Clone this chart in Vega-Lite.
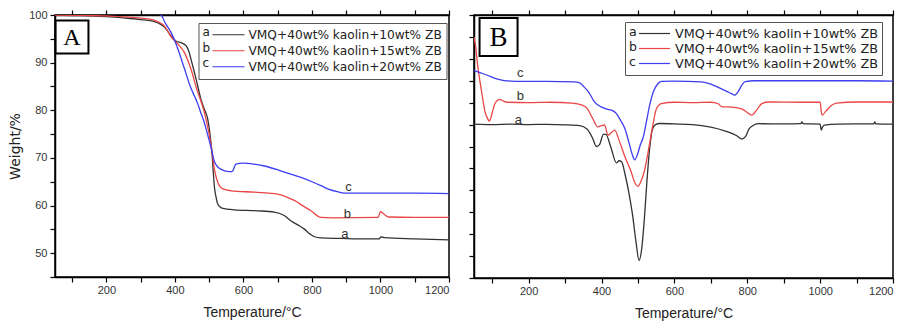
{
"$schema": "https://vega.github.io/schema/vega-lite/v6.json",
"padding": {"left": 7, "top": 8, "right": 0, "bottom": 0},
"bounds": "flush",
"spacing": 25,
"background": "white",
"config": {
  "view": {"stroke": "black", "strokeWidth": 1.5},
  "axis": {"grid": false, "domainColor": "black", "domainWidth": 1.5, "tickColor": "black", "tickWidth": 1.2, "tickSize": 5,
           "labelFont": "Liberation Sans", "labelFontSize": 11, "labelColor": "#333", "labelPadding": 2,
           "titleFont": "Liberation Sans", "titleFontSize": 14, "titleFontWeight": "normal", "titleColor": "#222"},
  "font": "Liberation Sans"
},
"resolve": {"scale": {"color": "independent"}},
"datasets": {
  "tga": [
    {"s":"a","T":50,"W":100},{"s":"a","T":100,"W":99.9},{"s":"a","T":150,"W":99.8},{"s":"a","T":200,"W":99.65},{"s":"a","T":250,"W":99.4},{"s":"a","T":300,"W":99.05},{"s":"a","T":340,"W":98.6},{"s":"a","T":370,"W":97.4},{"s":"a","T":389,"W":95.6},{"s":"a","T":404,"W":94.5},{"s":"a","T":418,"W":94.2},{"s":"a","T":433,"W":93.5},{"s":"a","T":440,"W":92.5},{"s":"a","T":447,"W":90.7},{"s":"a","T":455,"W":88.5},{"s":"a","T":462,"W":86.5},{"s":"a","T":476,"W":82.3},{"s":"a","T":486,"W":80.2},{"s":"a","T":496,"W":78.1},{"s":"a","T":502,"W":75.2},{"s":"a","T":508,"W":71.2},{"s":"a","T":512,"W":67},{"s":"a","T":515,"W":64.1},{"s":"a","T":520,"W":61.8},{"s":"a","T":525,"W":60.3},{"s":"a","T":532,"W":59.7},{"s":"a","T":540,"W":59.4},{"s":"a","T":573,"W":59.1},{"s":"a","T":642,"W":58.9},{"s":"a","T":690,"W":58.6},{"s":"a","T":719,"W":57.9},{"s":"a","T":738,"W":56.8},{"s":"a","T":760,"W":55.9},{"s":"a","T":777,"W":55.1},{"s":"a","T":795,"W":54.0},{"s":"a","T":806,"W":53.5},{"s":"a","T":826,"W":53.2},{"s":"a","T":884,"W":53.1},{"s":"a","T":950,"W":53.0},{"s":"a","T":997,"W":53.0},{"s":"a","T":1000,"W":53.35},{"s":"a","T":1005,"W":53.4},{"s":"a","T":1012,"W":53.25},{"s":"a","T":1100,"W":53.0},{"s":"a","T":1200,"W":52.8},
    {"s":"b","T":50,"W":100},{"s":"b","T":150,"W":99.9},{"s":"b","T":200,"W":99.8},{"s":"b","T":250,"W":99.6},{"s":"b","T":300,"W":99.35},{"s":"b","T":340,"W":98.9},{"s":"b","T":370,"W":97.6},{"s":"b","T":389,"W":95.4},{"s":"b","T":409,"W":93.9},{"s":"b","T":428,"W":92.1},{"s":"b","T":447,"W":88.6},{"s":"b","T":467,"W":83.7},{"s":"b","T":474,"W":82.3},{"s":"b","T":491,"W":78.1},{"s":"b","T":506,"W":72.5},{"s":"b","T":515,"W":67.7},{"s":"b","T":525,"W":64.9},{"s":"b","T":540,"W":63.5},{"s":"b","T":564,"W":63.1},{"s":"b","T":632,"W":62.8},{"s":"b","T":700,"W":62.4},{"s":"b","T":738,"W":61.4},{"s":"b","T":758,"W":60.7},{"s":"b","T":768,"W":60.2},{"s":"b","T":797,"W":58.9},{"s":"b","T":826,"W":57.5},{"s":"b","T":860,"W":57.4},{"s":"b","T":993,"W":57.5},{"s":"b","T":1000,"W":58.7},{"s":"b","T":1007,"W":58.4},{"s":"b","T":1015,"W":57.9},{"s":"b","T":1024,"W":57.6},{"s":"b","T":1100,"W":57.5},{"s":"b","T":1200,"W":57.5},
    {"s":"c","T":50,"W":101.5},{"s":"c","T":200,"W":101},{"s":"c","T":330,"W":100.6},{"s":"c","T":355,"W":100.1},{"s":"c","T":360,"W":100},{"s":"c","T":369,"W":98.7},{"s":"c","T":378,"W":97.6},{"s":"c","T":389,"W":96.3},{"s":"c","T":399,"W":94.7},{"s":"c","T":409,"W":92.8},{"s":"c","T":428,"W":88.7},{"s":"c","T":447,"W":84.6},{"s":"c","T":457,"W":83.0},{"s":"c","T":466,"W":81.5},{"s":"c","T":475,"W":79.6},{"s":"c","T":485,"W":77.6},{"s":"c","T":495,"W":75.0},{"s":"c","T":505,"W":72.3},{"s":"c","T":515,"W":69.3},{"s":"c","T":525,"W":68.1},{"s":"c","T":535,"W":67.6},{"s":"c","T":559,"W":67.1},{"s":"c","T":566,"W":67.1},{"s":"c","T":570,"W":67.4},{"s":"c","T":574,"W":68.2},{"s":"c","T":578,"W":68.7},{"s":"c","T":598,"W":68.9},{"s":"c","T":630,"W":68.7},{"s":"c","T":661,"W":68.3},{"s":"c","T":709,"W":67.3},{"s":"c","T":768,"W":65.9},{"s":"c","T":800,"W":65.0},{"s":"c","T":826,"W":64.2},{"s":"c","T":850,"W":63.4},{"s":"c","T":874,"W":62.9},{"s":"c","T":894,"W":62.6},{"s":"c","T":1000,"W":62.6},{"s":"c","T":1107,"W":62.6},{"s":"c","T":1200,"W":62.5}
  ],
  "tgaTags": [{"tag":"c","T":907,"W":63.9},{"tag":"b","T":903,"W":58.2},{"tag":"a","T":896,"W":54.0}],
  "dtg": [
    {"s":"a","T":50,"v":7.02},{"s":"a","T":100,"v":7.0},{"s":"a","T":150,"v":7.02},{"s":"a","T":200,"v":7.0},{"s":"a","T":250,"v":7.01},{"s":"a","T":300,"v":6.99},{"s":"a","T":340,"v":6.95},{"s":"a","T":360,"v":6.8},{"s":"a","T":375,"v":6.4},{"s":"a","T":386,"v":6.0},{"s":"a","T":395,"v":6.1},{"s":"a","T":405,"v":6.55},{"s":"a","T":412,"v":6.55},{"s":"a","T":425,"v":6.0},{"s":"a","T":441,"v":5.25},{"s":"a","T":448,"v":5.35},{"s":"a","T":455,"v":5.3},{"s":"a","T":465,"v":4.7},{"s":"a","T":475,"v":3.9},{"s":"a","T":485,"v":2.9},{"s":"a","T":495,"v":1.6},{"s":"a","T":503,"v":0.8},{"s":"a","T":510,"v":1.3},{"s":"a","T":518,"v":2.8},{"s":"a","T":525,"v":4.5},{"s":"a","T":532,"v":5.9},{"s":"a","T":540,"v":6.8},{"s":"a","T":548,"v":7.0},{"s":"a","T":560,"v":7.05},{"s":"a","T":600,"v":7.03},{"s":"a","T":650,"v":7.0},{"s":"a","T":700,"v":6.88},{"s":"a","T":740,"v":6.7},{"s":"a","T":770,"v":6.5},{"s":"a","T":785,"v":6.34},{"s":"a","T":795,"v":6.45},{"s":"a","T":805,"v":6.8},{"s":"a","T":815,"v":6.95},{"s":"a","T":831,"v":7.04},{"s":"a","T":900,"v":7.03},{"s":"a","T":947,"v":7.04},{"s":"a","T":950,"v":7.12},{"s":"a","T":953,"v":7.04},{"s":"a","T":1000,"v":7.02},{"s":"a","T":1003,"v":6.75},{"s":"a","T":1007,"v":6.9},{"s":"a","T":1012,"v":6.98},{"s":"a","T":1050,"v":7.02},{"s":"a","T":1100,"v":7.03},{"s":"a","T":1147,"v":7.03},{"s":"a","T":1150,"v":7.12},{"s":"a","T":1153,"v":7.03},{"s":"a","T":1200,"v":7.02},
    {"s":"b","T":50,"v":11.0},{"s":"b","T":55,"v":10.5},{"s":"b","T":60,"v":9.7},{"s":"b","T":67,"v":8.9},{"s":"b","T":74,"v":8.18},{"s":"b","T":80,"v":7.6},{"s":"b","T":88,"v":7.25},{"s":"b","T":92,"v":7.16},{"s":"b","T":97,"v":7.35},{"s":"b","T":101,"v":7.6},{"s":"b","T":106,"v":7.9},{"s":"b","T":111,"v":8.05},{"s":"b","T":120,"v":8.15},{"s":"b","T":130,"v":8.08},{"s":"b","T":140,"v":8.02},{"s":"b","T":200,"v":8.0},{"s":"b","T":260,"v":8.02},{"s":"b","T":320,"v":7.98},{"s":"b","T":345,"v":7.9},{"s":"b","T":360,"v":7.75},{"s":"b","T":375,"v":7.3},{"s":"b","T":390,"v":6.9},{"s":"b","T":400,"v":6.95},{"s":"b","T":408,"v":6.98},{"s":"b","T":418,"v":6.52},{"s":"b","T":428,"v":6.65},{"s":"b","T":436,"v":6.75},{"s":"b","T":450,"v":6.2},{"s":"b","T":465,"v":5.5},{"s":"b","T":480,"v":4.9},{"s":"b","T":493,"v":4.3},{"s":"b","T":500,"v":4.18},{"s":"b","T":508,"v":4.4},{"s":"b","T":518,"v":4.9},{"s":"b","T":528,"v":5.76},{"s":"b","T":540,"v":6.9},{"s":"b","T":551,"v":7.73},{"s":"b","T":564,"v":7.96},{"s":"b","T":600,"v":8.02},{"s":"b","T":650,"v":8.0},{"s":"b","T":700,"v":8.02},{"s":"b","T":720,"v":7.95},{"s":"b","T":730,"v":7.82},{"s":"b","T":757,"v":7.8},{"s":"b","T":785,"v":7.72},{"s":"b","T":800,"v":7.55},{"s":"b","T":812,"v":7.43},{"s":"b","T":825,"v":7.65},{"s":"b","T":840,"v":7.96},{"s":"b","T":860,"v":8.03},{"s":"b","T":950,"v":8.02},{"s":"b","T":1000,"v":8.02},{"s":"b","T":1003,"v":7.6},{"s":"b","T":1006,"v":7.43},{"s":"b","T":1015,"v":7.6},{"s":"b","T":1032,"v":7.88},{"s":"b","T":1045,"v":7.98},{"s":"b","T":1100,"v":8.03},{"s":"b","T":1200,"v":8.03},
    {"s":"c","T":50,"v":9.47},{"s":"c","T":70,"v":9.35},{"s":"c","T":88,"v":9.24},{"s":"c","T":110,"v":9.1},{"s":"c","T":133,"v":9.01},{"s":"c","T":180,"v":8.97},{"s":"c","T":250,"v":8.97},{"s":"c","T":324,"v":8.95},{"s":"c","T":340,"v":8.9},{"s":"c","T":352,"v":8.72},{"s":"c","T":366,"v":8.45},{"s":"c","T":380,"v":8.05},{"s":"c","T":399,"v":7.81},{"s":"c","T":415,"v":7.7},{"s":"c","T":427,"v":7.66},{"s":"c","T":441,"v":7.5},{"s":"c","T":452,"v":7.2},{"s":"c","T":464,"v":6.82},{"s":"c","T":475,"v":6.2},{"s":"c","T":485,"v":5.6},{"s":"c","T":491,"v":5.39},{"s":"c","T":498,"v":5.6},{"s":"c","T":507,"v":6.1},{"s":"c","T":514,"v":6.4},{"s":"c","T":524,"v":7.2},{"s":"c","T":532,"v":7.88},{"s":"c","T":542,"v":8.49},{"s":"c","T":554,"v":8.85},{"s":"c","T":565,"v":8.97},{"s":"c","T":600,"v":8.98},{"s":"c","T":674,"v":8.95},{"s":"c","T":700,"v":8.85},{"s":"c","T":720,"v":8.7},{"s":"c","T":745,"v":8.5},{"s":"c","T":757,"v":8.41},{"s":"c","T":765,"v":8.34},{"s":"c","T":775,"v":8.5},{"s":"c","T":785,"v":8.8},{"s":"c","T":794,"v":8.96},{"s":"c","T":820,"v":9.0},{"s":"c","T":900,"v":9.0},{"s":"c","T":1000,"v":9.0},{"s":"c","T":1100,"v":9.0},{"s":"c","T":1200,"v":8.98}
  ],
  "dtgTags": [{"tag":"c","T":177,"v":9.35},{"tag":"b","T":177,"v":8.31},{"tag":"a","T":172,"v":7.2}]
},
"hconcat": [
  {
    "width": 394, "height": 262,
    "layer": [
      {
        "data": {"name": "tga"},
        "mark": {"type": "line", "strokeWidth": 1.3, "clip": true, "interpolate": "monotone"},
        "encoding": {
          "x": {"field": "T", "type": "quantitative", "scale": {"domain": [50, 1200], "nice": false, "zero": false},
                "axis": {"title": "Temperature/°C", "format": "d", "values": [100,200,300,400,500,600,700,800,900,1000,1100,1200], "labelExpr": "datum.value % 200 === 0 ? datum.label : ''", "titlePadding": 10}},
          "y": {"field": "W", "type": "quantitative", "scale": {"domain": [45, 100], "nice": false, "zero": false},
                "axis": {"title": "Weight/%", "values": [45,50,55,60,65,70,75,80,85,90,95,100], "labelExpr": "datum.value % 10 === 0 ? datum.label : ''", "labelPadding": 3, "titlePadding": 6, "titleFont": "DejaVu Sans", "titleFontSize": 14}},
          "color": {"field": "s", "type": "nominal",
                    "scale": {"domain": ["a","b","c"], "range": ["#333333","#ea4646","#3d3df2"]},
                    "legend": {"orient": "none", "legendX": 143.5, "legendY": 8,
                               "title": ["a","b","c"], "titleOrient": "left", "titleAnchor": "start", "titleBaseline": "top",
                               "titleFont": "DejaVu Sans", "titleFontSize": 12, "titleFontWeight": "normal", "titleColor": "#222", "titleLineHeight": 15.5, "titlePadding": 1,
                               "symbolType": "stroke", "symbolSize": 1024, "symbolStrokeWidth": 1.2, "clipHeight": 15.5,
                               "labelFont": "DejaVu Sans", "labelFontSize": 12.2, "labelColor": "#222", "labelOffset": 3, "labelLimit": 400,
                               "labelExpr": "datum.label == 'a' ? 'VMQ+40wt% kaolin+10wt% ZB' : datum.label == 'b' ? 'VMQ+40wt% kaolin+15wt% ZB' : 'VMQ+40wt% kaolin+20wt% ZB'",
                               "strokeColor": "#555", "fillColor": "white", "padding": 4, "rowPadding": 0}}
        }
      },
      {
        "data": {"name": "tgaTags"},
        "mark": {"type": "text", "fontSize": 13, "font": "Liberation Sans", "color": "#333"},
        "encoding": {
          "x": {"field": "T", "type": "quantitative", "scale": {"domain": [50, 1200], "nice": false, "zero": false},
                "axis": {"orient": "top", "labels": false, "title": null, "values": [100,200,300,400,500,600,700,800,900,1000,1100,1200]}},
          "y": {"field": "W", "type": "quantitative", "axis": null},
          "text": {"field": "tag"}
        }
      },
      {
        "data": {"values": [{}]},
        "mark": {"type": "point", "shape": "square", "filled": false, "size": 1089, "stroke": "black", "strokeWidth": 2, "opacity": 1},
        "encoding": {"x": {"datum": 99.5, "type": "quantitative", "axis": null}, "y": {"datum": 95.4, "type": "quantitative", "axis": null}}
      },
      {
        "data": {"values": [{}]},
        "mark": {"type": "text", "text": "A", "font": "Liberation Serif", "fontSize": 24, "color": "black", "baseline": "middle", "dy": 1},
        "encoding": {"x": {"datum": 99.5, "type": "quantitative", "axis": null}, "y": {"datum": 95.4, "type": "quantitative", "axis": null}}
      }
    ],
    "resolve": {"axis": {"x": "independent", "y": "independent"}}
  },
  {
    "width": 419, "height": 263,
    "layer": [
      {
        "data": {"name": "dtg"},
        "mark": {"type": "line", "strokeWidth": 1.3, "clip": true, "interpolate": "monotone"},
        "encoding": {
          "x": {"field": "T", "type": "quantitative", "scale": {"domain": [50, 1200], "nice": false, "zero": false},
                "axis": {"title": "Temperature/°C", "format": "d", "values": [100,200,300,400,500,600,700,800,900,1000,1100,1200], "labelExpr": "datum.value % 200 === 0 ? datum.label : ''", "titlePadding": 10}},
          "y": {"field": "v", "type": "quantitative", "scale": {"domain": [0, 12], "nice": false, "zero": false},
                "axis": {"title": null, "labels": false, "values": [0,1,2,3,4,5,6,7,8,9,10,11,12]}},
          "color": {"field": "s", "type": "nominal",
                    "scale": {"domain": ["a","b","c"], "range": ["#333333","#ea4646","#3d3df2"]},
                    "legend": {"orient": "none", "legendX": 151, "legendY": 7,
                               "title": ["a","b","c"], "titleOrient": "left", "titleAnchor": "start", "titleBaseline": "top",
                               "titleFont": "DejaVu Sans", "titleFontSize": 12.5, "titleFontWeight": "normal", "titleColor": "#222", "titleLineHeight": 15, "titlePadding": 1,
                               "symbolType": "stroke", "symbolSize": 961, "symbolStrokeWidth": 1.2, "clipHeight": 15,
                               "labelFont": "DejaVu Sans", "labelFontSize": 12.8, "labelColor": "#222", "labelOffset": 4, "labelLimit": 400,
                               "labelExpr": "datum.label == 'a' ? 'VMQ+40wt% kaolin+10wt% ZB' : datum.label == 'b' ? 'VMQ+40wt% kaolin+15wt% ZB' : 'VMQ+40wt% kaolin+20wt% ZB'",
                               "strokeColor": "#555", "fillColor": "white", "padding": 4, "rowPadding": 0}}
        }
      },
      {
        "data": {"name": "dtgTags"},
        "mark": {"type": "text", "fontSize": 13, "font": "Liberation Sans", "color": "#333"},
        "encoding": {
          "x": {"field": "T", "type": "quantitative", "scale": {"domain": [50, 1200], "nice": false, "zero": false},
                "axis": {"orient": "top", "labels": false, "title": null, "values": [100,200,300,400,500,600,700,800,900,1000,1100,1200]}},
          "y": {"field": "v", "type": "quantitative", "axis": null},
          "text": {"field": "tag"}
        }
      },
      {
        "data": {"values": [{}]},
        "mark": {"type": "point", "shape": "square", "filled": false, "size": 1444, "stroke": "black", "strokeWidth": 2, "opacity": 1},
        "encoding": {"x": {"datum": 117.4, "type": "quantitative", "axis": null}, "y": {"datum": 11.0, "type": "quantitative", "axis": null}}
      },
      {
        "data": {"values": [{}]},
        "mark": {"type": "text", "text": "B", "font": "Liberation Serif", "fontSize": 27, "color": "black", "baseline": "middle", "dy": 1},
        "encoding": {"x": {"datum": 117.4, "type": "quantitative", "axis": null}, "y": {"datum": 11.0, "type": "quantitative", "axis": null}}
      }
    ],
    "resolve": {"axis": {"x": "independent", "y": "independent"}}
  }
]
}
